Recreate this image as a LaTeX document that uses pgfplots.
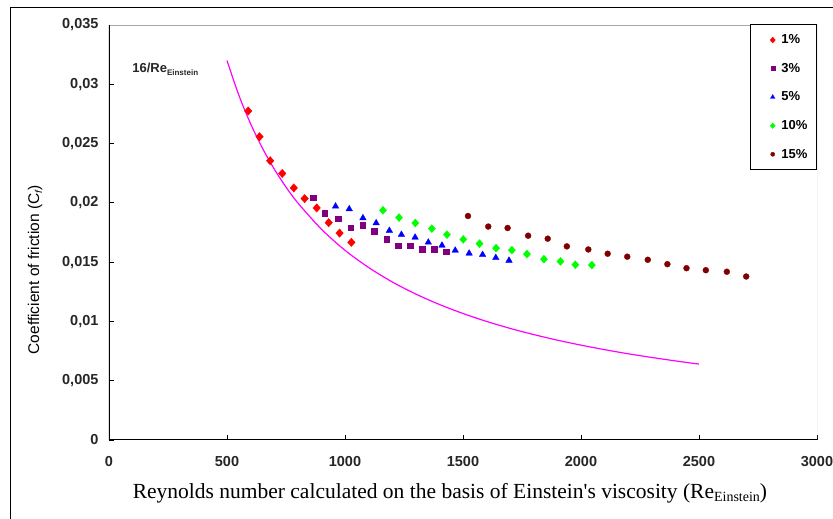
\documentclass[border=0pt]{standalone}
\usepackage{fontspec}
\setmainfont{Liberation Sans}
\newfontfamily\timesf{Liberation Serif}
\usepackage{pgfplots}
\pgfplotsset{compat=1.18}
\definecolor{cRed}{RGB}{255,0,0}
\definecolor{cPurple}{RGB}{128,0,128}
\definecolor{cBlue}{RGB}{0,0,255}
\definecolor{cGreen}{RGB}{0,255,0}
\definecolor{cDark}{RGB}{128,0,0}
\definecolor{cMag}{RGB}{255,0,255}

\pgfplotstableread{
x y
500 0.03200
550 0.02909
600 0.02667
650 0.02462
700 0.02286
750 0.02133
800 0.02000
900 0.01778
1000 0.01600
1100 0.01455
1200 0.01333
1300 0.01231
1400 0.01143
1500 0.01067
1600 0.01000
1700 0.00941
1800 0.00889
1900 0.00842
2000 0.00800
2100 0.00762
2200 0.00727
2300 0.00696
2400 0.00667
2500 0.00640
}\curve

\pgfplotstableread{
x y
590 0.02775
638 0.02558
683 0.02355
734 0.02248
783 0.02126
829 0.02036
880 0.01957
931 0.01833
977 0.01745
1027 0.01667
}\one

\pgfplotstableread{
x y
865 0.02045
914 0.01915
972 0.01867
1024 0.01791
1074 0.01813
1124 0.01762
1176 0.01695
1226 0.01639
1276 0.01639
1327 0.01610
1379 0.01610
1428 0.01588
}\three

\pgfplotstableread{
x y
960 0.01971
1018 0.01948
1076 0.01872
1132 0.01830
1188 0.01766
1239 0.01732
1297 0.01709
1353 0.01667
1411 0.01641
1467 0.01599
1526 0.01574
1583 0.01563
1639 0.01537
1695 0.01514
}\five

\pgfplotstableread{
x y
1161 0.01937
1229 0.01876
1298 0.01830
1368 0.01783
1432 0.01732
1501 0.01692
1570 0.01656
1640 0.01618
1707 0.01601
1771 0.01568
1843 0.01525
1913 0.01506
1976 0.01478
2046 0.01475
}\ten

\pgfplotstableread{
x y
1521 0.01889
1607 0.01800
1689 0.01788
1776 0.01723
1859 0.01698
1940 0.01633
2031 0.01607
2113 0.01571
2196 0.01546
2283 0.01520
2366 0.01483
2447 0.01449
2529 0.01432
2618 0.01419
2700 0.01379
}\fifteen

\begin{document}
\begin{tikzpicture}[x=1pt,y=1pt]
\useasboundingbox (-109,-79) rectangle (724,440);
\draw[line width=0.9pt] (-99,-90) -- (-99,433) -- (735,433);
\begin{axis}[
  at={(0,0)}, anchor=south west,
  scale only axis, width=708pt, height=415pt,
  xmin=0, xmax=3000, ymin=0, ymax=0.035,
  axis line style={draw=none},
  tick pos=left, tick align=inside,
  major tick length=5pt,
  tick style={black, line width=0.8pt},
  xtick={0,500,1000,1500,2000,2500,3000},
  xticklabels={0,500,1000,1500,2000,2500,3000},
  ytick={0,0.005,0.01,0.015,0.02,0.025,0.03,0.035},
  yticklabels={0,{0,005},{0,01},{0,015},{0,02},{0,025},{0,03},{0,035}},
  scaled y ticks=false,
  tick label style={font=\bfseries\fontsize{14.5}{16}\selectfont, text=black!85},
  yticklabel shift=7pt,
  xticklabel shift=13pt,
  xlabel={\timesf\fontsize{21.5}{24}\selectfont Reynolds number calculated on the basis of Einstein's viscosity (Re\raisebox{-3pt}{\fontsize{14}{14}\selectfont Einstein})},
  ylabel={\fontsize{15.5}{18}\selectfont Coefficient of friction (C\raisebox{-3pt}{\fontsize{10}{10}\selectfont\itshape f})},
  xlabel style={at={(rel axis cs:0.4816,-0.1277)}, anchor=center},
  ylabel style={at={(rel axis cs:-0.1045,0.41)}, anchor=center},
  legend style={at={(rel axis cs:1,1.002)}, anchor=north east, draw=black, line width=1.2pt, fill=white,
    font=\bfseries\fontsize{13}{15}\selectfont, row sep=14pt, column sep=4pt, inner xsep=7pt, inner ysep=8pt,
    cells={anchor=west}},
  legend image code/.code={\path[draw=none,fill=none] (0pt,0pt) -- (17pt,0pt); \draw[every mark/.append style={scale=0.7}] plot coordinates {(15pt,0pt)};},
]
\draw[gray!70, line width=0.8pt] (rel axis cs:0,1) -- (rel axis cs:1,1) -- (rel axis cs:1,0);
\draw[black, line width=1.2pt] (rel axis cs:0,1) -- (rel axis cs:0,0) -- (rel axis cs:1,0);
\addplot[cMag, line width=1.2pt, no marks, smooth, forget plot] table {\curve};
\addplot[only marks, mark=diamond*, mark size=4.2pt, color=cRed, mark options={xscale=1.2, line width=0.3pt}] table {\one};
\addplot[only marks, mark=square*, mark size=2.8pt, color=cPurple, mark options={line width=0.3pt}] table {\three};
\addplot[only marks, mark=triangle*, mark size=3.8pt, color=cBlue, mark options={line width=0.3pt}] table {\five};
\addplot[only marks, mark=diamond*, mark size=4pt, color=cGreen, mark options={xscale=1.2, line width=0.3pt}] table {\ten};
\addplot[only marks, mark=*, mark size=3pt, color=cDark, mark options={line width=0.3pt}] table {\fifteen};
\legend{1\%,3\%,5\%,10\%,15\%}
\node[anchor=west, font=\bfseries\fontsize{13}{15}\selectfont, text=black!85] at (rel axis cs:0.028,0.892) {16/Re\raisebox{-3pt}{\fontsize{8}{9}\selectfont Einstein}};
\end{axis}
\end{tikzpicture}
\end{document}
